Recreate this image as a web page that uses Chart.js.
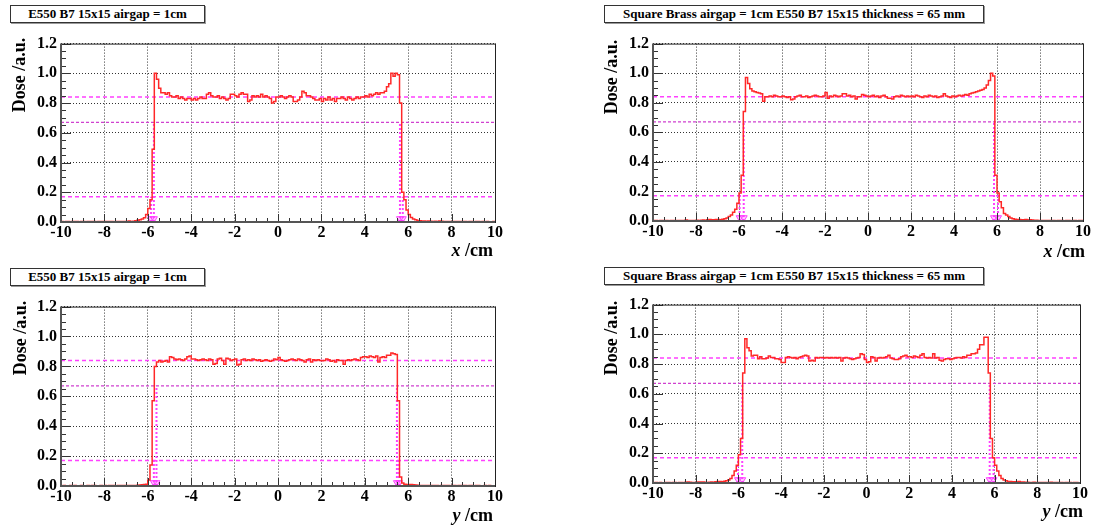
<!DOCTYPE html>
<html>
<head>
<meta charset="utf-8">
<script src="https://cdn.jsdelivr.net/npm/chart.js@4.4.0/dist/chart.umd.min.js"></script>
<style>
body { margin:0; background:#fff; width:1093px; height:529px; position:relative; overflow:hidden; }
canvas { position:absolute; }
.pave { position:absolute; height:16px; border:1px solid #333; box-shadow:1px 1px 0 #999; background:#fff;
        font:bold 13px 'Liberation Serif', serif; line-height:16px; text-align:center; white-space:nowrap; }
.ytitle { position:absolute; font:bold 18px 'Liberation Serif', serif; white-space:nowrap;
          transform:translate(-50%,-50%) rotate(-90deg); }
.xtitle { position:absolute; font:bold 18px 'Liberation Serif', serif; white-space:nowrap;
          transform:translate(-100%,-50%); }
</style>
</head>
<body>
<canvas id="c1" width="510" height="215" style="left:0px;top:30px"></canvas>
<canvas id="c2" width="501" height="214" style="left:592px;top:30px"></canvas>
<canvas id="c3" width="510" height="216" style="left:0px;top:293px"></canvas>
<canvas id="c4" width="501" height="215" style="left:592px;top:291px"></canvas>

<div class="pave" id="t1" style="left:10px;top:5px;width:193px"></div>
<div class="pave" id="t2" style="left:604px;top:5px;width:378px"></div>
<div class="pave" id="t3" style="left:10px;top:268px;width:193px"></div>
<div class="pave" id="t4" style="left:604px;top:267px;width:378px"></div>

<div class="ytitle" style="left:19px;top:75px">Dose /a.u.</div>
<div class="ytitle" style="left:611px;top:77px">Dose /a.u.</div>
<div class="ytitle" style="left:20px;top:338px">Dose /a.u.</div>
<div class="ytitle" style="left:611px;top:338px">Dose /a.u.</div>

<div class="xtitle" style="left:493px;top:250px"><i>x</i> /cm</div>
<div class="xtitle" style="left:1085px;top:251px"><i>x</i> /cm</div>
<div class="xtitle" style="left:493px;top:515px"><i>y</i> /cm</div>
<div class="xtitle" style="left:1083px;top:511px"><i>y</i> /cm</div>

<script>
// axis ticks
const xTicks = [-10, -8, -6, -4, -2, 0, 2, 4, 6, 8, 10];
const yTicks = [0, 0.2, 0.4, 0.6, 0.8, 1.0, 1.2];
// histogram bins: 200 bins of 0.1 cm from -10 cm
const binLow = -10;
const binWidth = 0.1;

const doseXAirgap = [
  0.003,0.002,0.003,0.003,0.002,0.003,0.004,0.003,0.002,0.003,
  0.003,0.002,0.003,0.004,0.003,0.003,0.002,0.003,0.003,0.004,
  0.003,0.003,0.004,0.003,0.002,0.003,0.004,0.003,0.004,0.003,
  0.004,0.006,0.004,0.005,0.008,0.012,0.015,0.020,0.028,0.050,
  0.090,0.150,0.490,1.000,0.960,0.900,0.870,0.870,0.860,0.870,
  0.850,0.840,0.840,0.850,0.830,0.840,0.830,0.820,0.830,0.830,
  0.820,0.830,0.820,0.830,0.840,0.830,0.830,0.860,0.870,0.850,
  0.840,0.840,0.850,0.830,0.840,0.830,0.820,0.830,0.860,0.860,
  0.850,0.840,0.860,0.870,0.860,0.860,0.810,0.820,0.850,0.840,
  0.850,0.840,0.860,0.840,0.850,0.840,0.830,0.800,0.810,0.840,
  0.840,0.850,0.840,0.830,0.840,0.850,0.840,0.810,0.810,0.820,
  0.840,0.880,0.870,0.850,0.850,0.840,0.830,0.820,0.820,0.830,
  0.810,0.830,0.820,0.840,0.820,0.830,0.810,0.830,0.830,0.840,
  0.830,0.820,0.840,0.830,0.820,0.830,0.840,0.830,0.840,0.840,
  0.850,0.840,0.860,0.850,0.860,0.870,0.860,0.870,0.870,0.880,
  0.910,0.930,1.000,0.980,1.000,0.990,0.800,0.200,0.150,0.080,
  0.050,0.030,0.020,0.015,0.010,0.008,0.007,0.006,0.005,0.006,
  0.005,0.004,0.005,0.004,0.006,0.005,0.004,0.003,0.004,0.003,
  0.004,0.003,0.004,0.003,0.003,0.004,0.003,0.002,0.003,0.003,
  0.002,0.003,0.003,0.002,0.003,0.002,0.003,0.002,0.002,0.003
];
const doseXBrass = [
  0.003,0.003,0.002,0.003,0.004,0.003,0.003,0.002,0.003,0.003,
  0.003,0.004,0.003,0.003,0.004,0.006,0.004,0.003,0.004,0.004,
  0.005,0.004,0.005,0.006,0.005,0.008,0.010,0.008,0.009,0.010,
  0.010,0.009,0.012,0.015,0.020,0.030,0.040,0.060,0.080,0.120,
  0.190,0.310,0.740,0.970,0.930,0.895,0.880,0.875,0.870,0.865,
  0.860,0.810,0.840,0.840,0.845,0.840,0.850,0.845,0.840,0.840,
  0.845,0.840,0.835,0.840,0.820,0.825,0.840,0.845,0.850,0.840,
  0.840,0.845,0.835,0.840,0.845,0.850,0.845,0.840,0.840,0.845,
  0.870,0.830,0.845,0.840,0.850,0.845,0.840,0.845,0.860,0.860,
  0.845,0.850,0.840,0.845,0.825,0.840,0.840,0.855,0.850,0.845,
  0.840,0.845,0.850,0.840,0.845,0.835,0.845,0.850,0.840,0.830,
  0.830,0.825,0.840,0.845,0.840,0.850,0.845,0.840,0.845,0.840,
  0.845,0.840,0.850,0.845,0.840,0.835,0.845,0.840,0.850,0.845,
  0.840,0.845,0.835,0.840,0.845,0.860,0.845,0.840,0.835,0.845,
  0.840,0.845,0.850,0.845,0.850,0.855,0.850,0.860,0.865,0.870,
  0.875,0.880,0.885,0.890,0.900,0.920,0.950,1.000,0.980,0.310,
  0.190,0.130,0.090,0.050,0.040,0.030,0.020,0.015,0.012,0.010,
  0.010,0.009,0.008,0.010,0.007,0.008,0.006,0.005,0.005,0.004,
  0.003,0.004,0.003,0.003,0.004,0.003,0.003,0.002,0.003,0.003,
  0.003,0.002,0.003,0.003,0.002,0.003,0.003,0.002,0.003,0.003
];
const doseYAirgap = [
  0.002,0.003,0.002,0.002,0.003,0.002,0.003,0.002,0.002,0.003,
  0.002,0.002,0.003,0.002,0.003,0.003,0.002,0.002,0.003,0.002,
  0.003,0.002,0.003,0.004,0.003,0.002,0.003,0.003,0.004,0.003,
  0.003,0.004,0.003,0.004,0.004,0.005,0.006,0.008,0.010,0.012,
  0.040,0.140,0.570,0.800,0.830,0.840,0.830,0.835,0.840,0.830,
  0.865,0.860,0.850,0.845,0.850,0.845,0.840,0.850,0.865,0.870,
  0.850,0.850,0.845,0.840,0.845,0.850,0.845,0.840,0.850,0.845,
  0.815,0.820,0.850,0.855,0.840,0.815,0.855,0.850,0.840,0.845,
  0.850,0.810,0.815,0.845,0.850,0.840,0.845,0.840,0.850,0.845,
  0.840,0.845,0.835,0.840,0.845,0.840,0.835,0.840,0.850,0.845,
  0.860,0.845,0.840,0.835,0.840,0.845,0.850,0.845,0.840,0.850,
  0.845,0.840,0.830,0.845,0.850,0.830,0.845,0.840,0.845,0.840,
  0.838,0.840,0.850,0.845,0.835,0.840,0.830,0.845,0.840,0.840,
  0.815,0.840,0.845,0.840,0.845,0.850,0.845,0.840,0.860,0.865,
  0.865,0.860,0.870,0.865,0.860,0.870,0.830,0.860,0.865,0.860,
  0.875,0.875,0.890,0.885,0.880,0.570,0.060,0.020,0.012,0.010,
  0.010,0.010,0.008,0.006,0.005,0.004,0.004,0.003,0.003,0.004,
  0.003,0.004,0.003,0.003,0.002,0.003,0.003,0.004,0.003,0.002,
  0.003,0.003,0.002,0.003,0.004,0.003,0.003,0.002,0.003,0.003,
  0.002,0.003,0.003,0.002,0.002,0.003,0.002,0.003,0.002,0.002
];
const doseYBrass = [
  0.002,0.003,0.002,0.003,0.002,0.002,0.003,0.003,0.002,0.003,
  0.003,0.002,0.003,0.003,0.002,0.005,0.006,0.005,0.003,0.004,
  0.004,0.006,0.007,0.007,0.005,0.004,0.005,0.006,0.005,0.008,
  0.010,0.010,0.009,0.012,0.015,0.020,0.030,0.050,0.080,0.120,
  0.190,0.300,0.740,0.970,0.910,0.890,0.855,0.860,0.860,0.835,
  0.850,0.835,0.835,0.840,0.855,0.845,0.845,0.835,0.835,0.830,
  0.810,0.810,0.845,0.850,0.845,0.840,0.845,0.835,0.845,0.850,
  0.855,0.860,0.855,0.820,0.825,0.820,0.845,0.840,0.845,0.845,
  0.840,0.845,0.840,0.845,0.840,0.845,0.840,0.845,0.820,0.840,
  0.845,0.840,0.835,0.830,0.835,0.840,0.845,0.870,0.865,0.830,
  0.810,0.815,0.850,0.845,0.820,0.840,0.845,0.840,0.845,0.850,
  0.860,0.840,0.835,0.830,0.830,0.835,0.850,0.855,0.860,0.850,
  0.850,0.845,0.855,0.850,0.845,0.860,0.870,0.845,0.840,0.845,
  0.840,0.870,0.840,0.845,0.825,0.820,0.830,0.835,0.835,0.830,
  0.835,0.840,0.845,0.845,0.840,0.850,0.845,0.860,0.860,0.870,
  0.870,0.875,0.900,0.930,0.930,0.980,0.980,0.740,0.300,0.170,
  0.120,0.080,0.050,0.030,0.020,0.015,0.010,0.010,0.008,0.008,
  0.006,0.010,0.007,0.006,0.005,0.005,0.004,0.004,0.005,0.004,
  0.003,0.004,0.003,0.004,0.003,0.003,0.005,0.004,0.003,0.004,
  0.003,0.003,0.002,0.003,0.004,0.003,0.002,0.003,0.003,0.002
];

// plateau level, 80% and 20% of it
const levelsXAirgap = [0.84, 0.67, 0.17];
const levelsXBrass  = [0.84, 0.67, 0.17];
const levelsYAirgap = [0.84, 0.67, 0.17];
const levelsYBrass  = [0.84, 0.67, 0.17];
// field edges: left 20%, left 80%, right 80%, right 20%
const edgesXAirgap = [-5.85, -5.72, 5.62, 5.75];
const edgesXBrass  = [-5.97, -5.78, 5.86, 6.05];
const edgesYAirgap = [-5.72, -5.60, 5.48, 5.58];
const edgesYBrass  = [-6.02, -5.82, 5.77, 5.95];

const titles = [
  'E550 B7 15x15 airgap = 1cm',
  'Square Brass airgap = 1cm E550 B7 15x15 thickness = 65 mm',
  'E550 B7 15x15 airgap = 1cm',
  'Square Brass airgap = 1cm E550 B7 15x15 thickness = 65 mm'
];

const tickFont = { family: 'Liberation Serif', weight: 'bold', size: 16 };

// ROOT-like frame with inward major/minor ticks
const rootFrame = {
  id: 'rootFrame',
  afterDraw(chart) {
    const ctx = chart.ctx, a = chart.chartArea;
    const xs = chart.scales.x, ys = chart.scales.y;
    ctx.save();
    ctx.strokeStyle = '#333';
    ctx.lineWidth = 1;
    ctx.beginPath();
    for (let v = -10; v <= 10.001; v += 0.5) {
      const px = Math.round(xs.getPixelForValue(v)) + 0.5;
      const len = Math.abs(v % 2) < 0.01 ? 8 : 4;
      ctx.moveTo(px, a.bottom);
      ctx.lineTo(px, a.bottom - len);
    }
    for (let v = 0; v <= 1.2001; v += 0.05) {
      const py = Math.round(ys.getPixelForValue(v)) + 0.5;
      const len = Math.abs(v / 0.2 - Math.round(v / 0.2)) < 0.01 ? 10 : 5;
      ctx.moveTo(a.left, py);
      ctx.lineTo(a.left + len, py);
    }
    ctx.stroke();
    ctx.strokeStyle = '#222';
    ctx.strokeRect(a.left + 0.5, a.top + 0.5, a.right - a.left, a.bottom - a.top);
    ctx.strokeStyle = '#555';
    ctx.lineWidth = 2;
    ctx.beginPath();
    ctx.moveTo(a.left, a.top);
    ctx.lineTo(a.left, a.bottom);
    ctx.lineTo(a.right, a.bottom);
    ctx.stroke();
    ctx.restore();
  }
};

function histPoints(values) {
  const pts = values.map((v, i) => ({ x: binLow + i * binWidth, y: v }));
  pts.push({ x: binLow + values.length * binWidth, y: values[values.length - 1] });
  return pts;
}

function makePanel(id, values, levels, edges, padTop, padRight) {
  const datasets = [];
  datasets.push({
    data: histPoints(values),
    stepped: true,
    borderColor: 'rgb(255,40,40)',
    borderWidth: 1.5,
    pointRadius: 0
  });
  levels.forEach((lv, k) => {
    datasets.push({
      data: [{ x: xTicks[0], y: lv }, { x: xTicks[xTicks.length - 1], y: lv }],
      borderColor: k === 1 ? '#d040d0' : '#ff40ff',
      borderWidth: k === 1 ? 1.2 : 1.5,
      borderDash: k === 1 ? [3, 2] : [4, 3],
      pointRadius: 0
    });
  });
  const tops = [levels[2], levels[1], levels[1], levels[2]];
  edges.forEach((ex, k) => {
    datasets.push({
      data: [{ x: ex, y: 0 }, { x: ex, y: tops[k] }],
      borderColor: '#ff40ff',
      borderWidth: 2,
      borderDash: [2, 2],
      pointRadius: 0
    });
  });
  datasets.push({
    data: edges.map(ex => ({ x: ex, y: 0.022 })),
    showLine: false,
    pointStyle: 'triangle',
    rotation: 180,
    pointRadius: 4,
    borderWidth: 1,
    borderColor: '#ff40ff',
    backgroundColor: 'rgba(255,120,255,0.4)'
  });

  new Chart(document.getElementById(id), {
    type: 'line',
    data: { datasets: datasets },
    options: {
      responsive: false,
      animation: false,
      layout: { padding: { top: padTop, right: padRight, left: 0, bottom: 0 } },
      plugins: { legend: { display: false }, tooltip: { enabled: false } },
      scales: {
        x: {
          type: 'linear',
          min: -10, max: 10,
          afterBuildTicks: s => { s.ticks = xTicks.map(v => ({ value: v })); },
          afterFit: s => { s.height = 23; },
          ticks: { font: tickFont, color: '#000', padding: 1, maxRotation: 0, autoSkip: false },
          grid: { color: '#333', lineWidth: 1, drawTicks: false },
          border: { display: false, dash: [1, 2] }
        },
        y: {
          min: 0, max: 1.2,
          afterBuildTicks: s => { s.ticks = yTicks.map(v => ({ value: v })); },
          afterFit: s => { s.width = 61; },
          ticks: { font: tickFont, color: '#000', padding: 4, callback: v => v.toFixed(1) },
          grid: { color: '#333', lineWidth: 1, drawTicks: false },
          border: { display: false, dash: [1, 2] }
        }
      }
    },
    plugins: [rootFrame]
  });
}

titles.forEach((t, i) => { document.getElementById('t' + (i + 1)).textContent = t; });

makePanel('c1', doseXAirgap, levelsXAirgap, edgesXAirgap, 13, 15);
makePanel('c2', doseXBrass, levelsXBrass, edgesXBrass, 13, 10);
makePanel('c3', doseYAirgap, levelsYAirgap, edgesYAirgap, 13, 15);
makePanel('c4', doseYBrass, levelsYBrass, edgesYBrass, 13, 13);
</script>
</body>
</html>
